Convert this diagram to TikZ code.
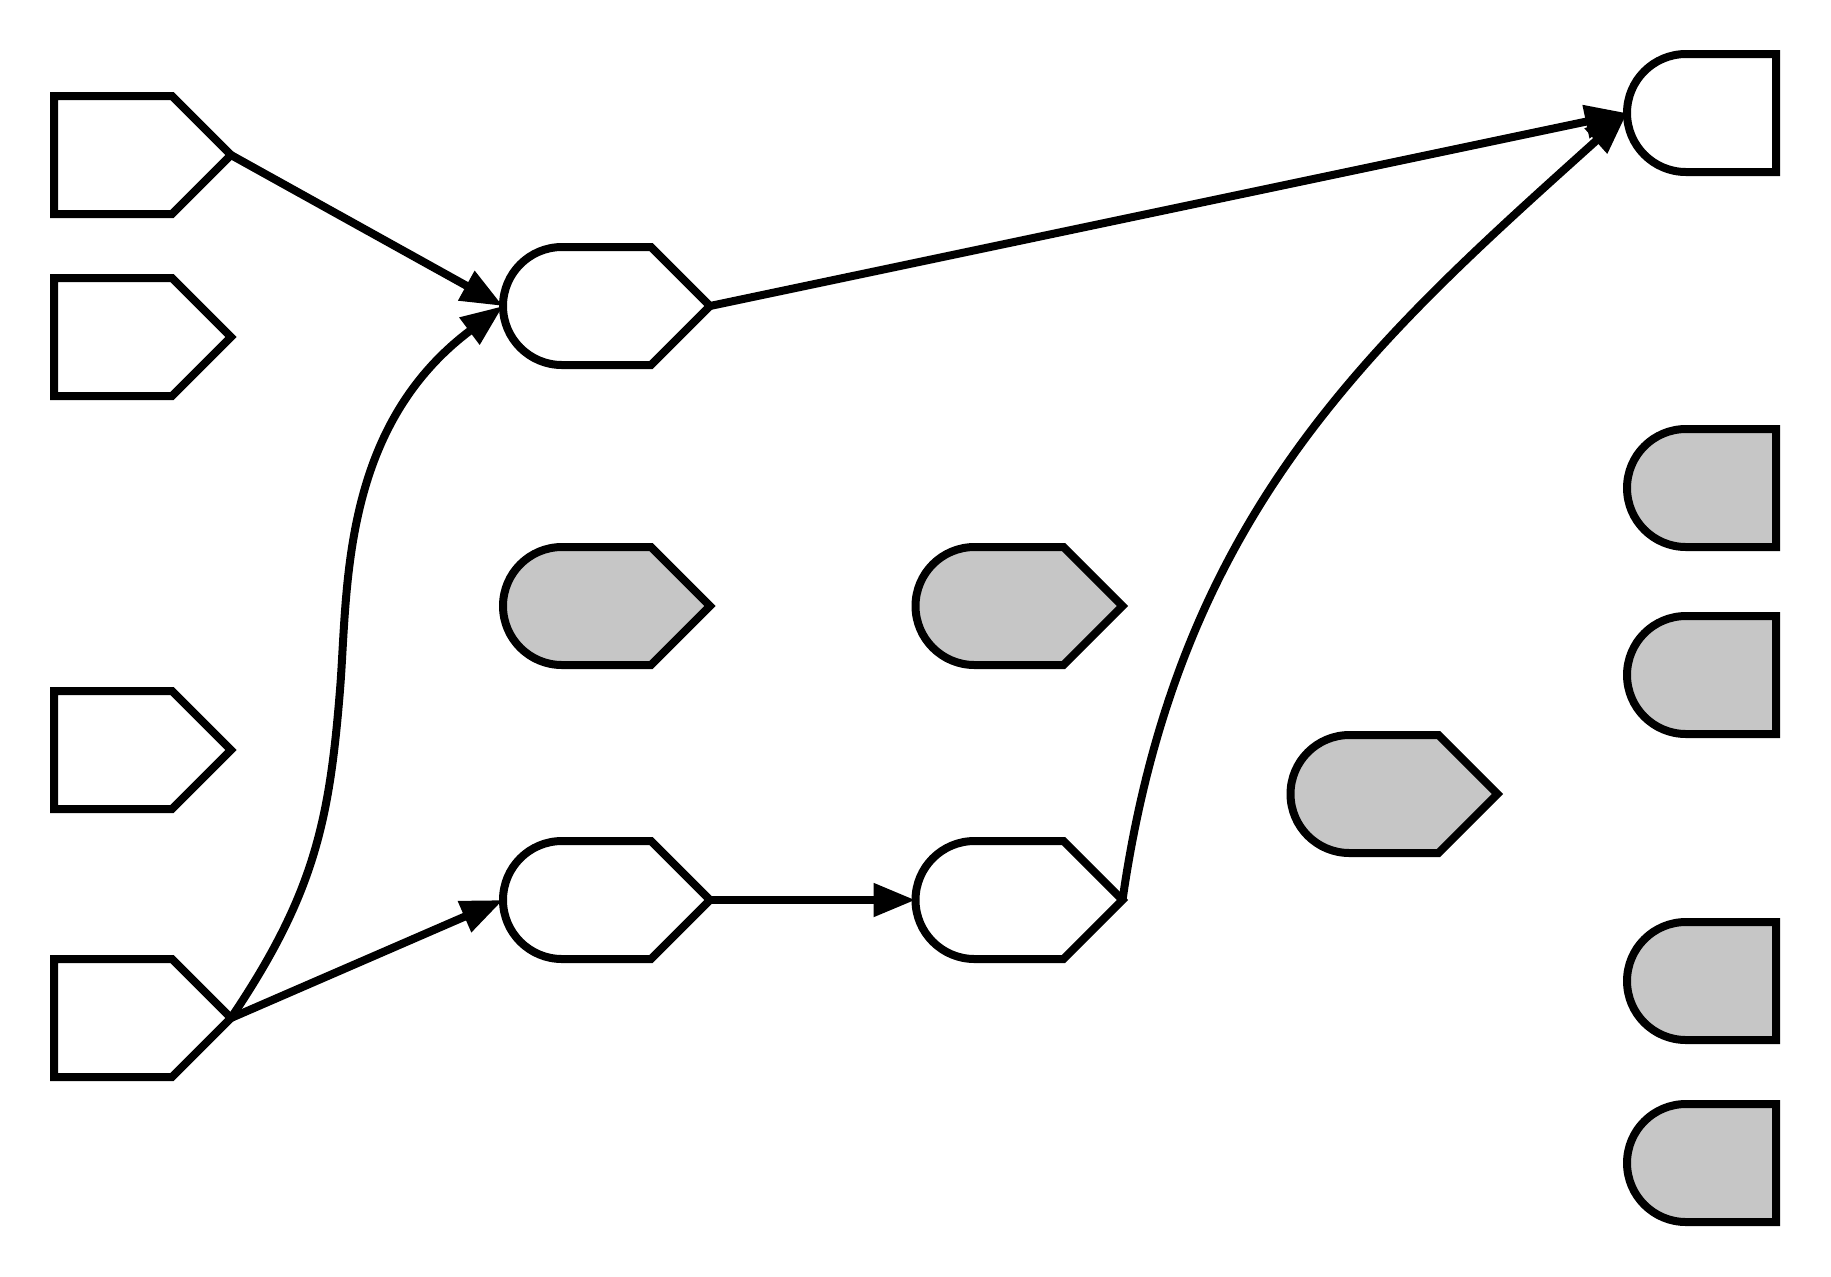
\documentclass[tikz,border=0pt]{standalone}
\usetikzlibrary{arrows.meta}
\tikzset{>={Triangle[width=16pt,length=21pt]}}
\definecolor{shade}{HTML}{C6C6C6}
\newcommand\rr{29.5pt}
\tikzset{
  outline/.style={line width=4pt, draw=black},
  box/.style={inner sep=0pt, outer sep=0pt, minimum height=59pt},
  inport/.style={box, minimum width=88.5pt, append after command={\pgfextra{
    \draw[outline, fill=#1] (\tikzlastnode.north west)
      -- ([xshift=-\rr]\tikzlastnode.north east) -- (\tikzlastnode.east)
      -- ([xshift=-\rr]\tikzlastnode.south east) -- (\tikzlastnode.south west) -- cycle;}}},
  inport/.default=white,
  stage/.style={box, minimum width=103.5pt, append after command={\pgfextra{
    \draw[outline, fill=#1] ([xshift=\rr]\tikzlastnode.north west)
      -- ([xshift=-\rr]\tikzlastnode.north east) -- (\tikzlastnode.east)
      -- ([xshift=-\rr]\tikzlastnode.south east) -- ([xshift=\rr]\tikzlastnode.south west)
      arc[start angle=270, end angle=90, radius=\rr] -- cycle;}}},
  stage/.default=white,
  outport/.style={box, minimum width=74.5pt, append after command={\pgfextra{
    \draw[outline, fill=#1] ([xshift=\rr]\tikzlastnode.north west)
      -- (\tikzlastnode.north east) -- (\tikzlastnode.south east)
      -- ([xshift=\rr]\tikzlastnode.south west)
      arc[start angle=270, end angle=90, radius=\rr] -- cycle;}}},
  outport/.default=white
}

\begin{document}
\begin{tikzpicture}[x=0.5pt, y=-0.5pt]
\useasboundingbox (0,0) rectangle (1831,1276);

% inputs
\node[inport] (in1) at (142.5, 155) {};
\node[inport] (in2) at (142.5, 337) {};
\node[inport] (in3) at (142.5, 750) {};
\node[inport] (in4) at (142.5,1018) {};

% stages
\node[stage] (m1) at (606.5, 306) {};
\node[stage=shade] (m2) at (606.5, 606) {};
\node[stage] (m3) at (606.5, 900) {};
\node[stage=shade] (c1) at (1019, 606) {};
\node[stage] (c2) at (1019, 900) {};
\node[stage=shade] (d1) at (1394, 794) {};

% outputs
\node[outport] (o1) at (1701.5, 113) {};
\node[outport=shade] (o2) at (1701.5, 488) {};
\node[outport=shade] (o3) at (1701.5, 675) {};
\node[outport=shade] (o4) at (1701.5, 981) {};
\node[outport=shade] (o5) at (1701.5,1163) {};

\coordinate (bend) at (340,690);

\begin{scope}[line width=4pt]
\draw[->] (in1.east) -- (m1.west);
\draw[->] (in4.east) .. controls (315,893.5) and (329.5,819.6) .. (bend)
  .. controls (348,590) and (340,428) .. (m1.west);
\draw[->] (in4.east) -- (m3.west);
\draw[->] (m3.east) -- (c2.west);
\draw[->] (m1.east) -- (o1.west);
\draw[->] (c2.east) .. controls (1178,514) and (1370,344) .. (o1.west);
\end{scope}
\end{tikzpicture}
\end{document}
